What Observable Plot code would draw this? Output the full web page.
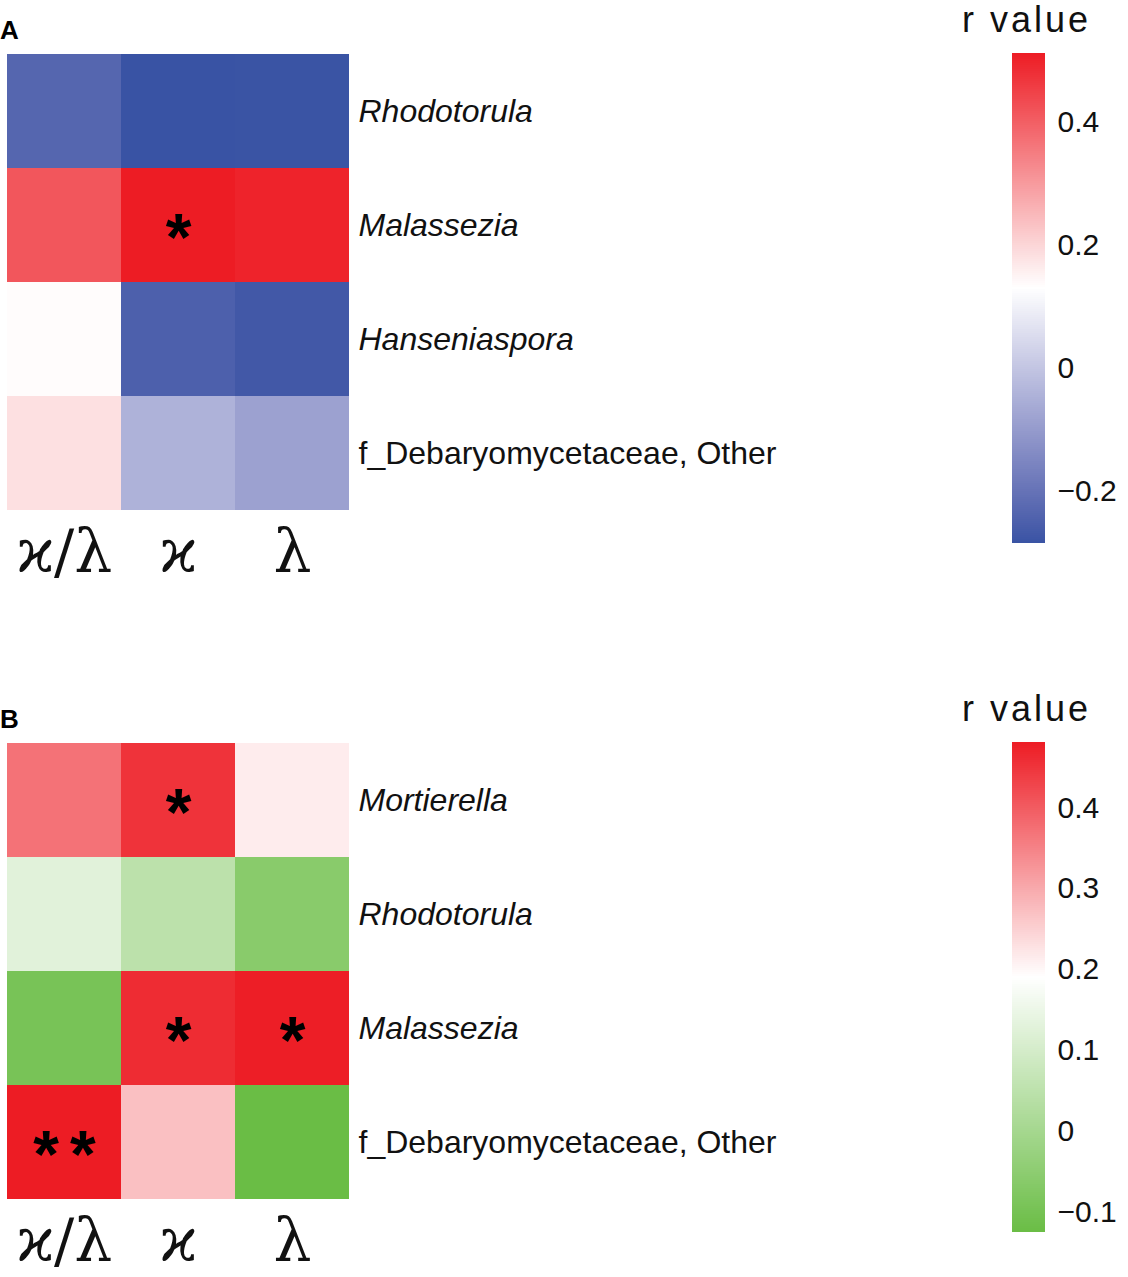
<!DOCTYPE html>
<html>
<head>
<meta charset="utf-8">
<script src="https://cdn.jsdelivr.net/npm/d3@7"></script>
<script src="https://cdn.jsdelivr.net/npm/@observablehq/plot@0.6"></script>
<style>
  html, body { margin: 0; padding: 0; background: #fff; }
  #root { position: relative; width: 1128px; height: 1277px; overflow: hidden; font-family: "Liberation Sans", Arial, sans-serif; }
  .abs { position: absolute; }
  .panel-letter { font-weight: bold; font-size: 26px; line-height: 26px; color: #000; }
  .ltitle { font-size: 36px; line-height: 40px; letter-spacing: 3px; color: #111; white-space: nowrap; }
</style>
</head>
<body>
<div id="root"></div>
<script>
// ---------- data ----------
const cols = ["ϰ/λ", "ϰ", "λ"];

// Panel A
const rowsA = ["Rhodotorula", "Malassezia", "Hanseniaspora", "f_Debaryomycetaceae, Other"];
const rA_kl = [-0.235, 0.415, 0.135, 0.182];
const rA_k  = [-0.285, 0.512, -0.25, -0.045];
const rA_l  = [-0.283, 0.50, -0.27, -0.085];
const sigA_kl = ["", "", "", ""];
const sigA_k  = ["", "*", "", ""];
const sigA_l  = ["", "", "", ""];
const limitsA = [-0.285, 0.512];
const pivotA = 0.13;
const ticksA = [-0.2, 0, 0.2, 0.4];

// Panel B
const rowsB = ["Mortierella", "Rhodotorula", "Malassezia", "f_Debaryomycetaceae, Other"];
const rB_kl = [0.371, 0.127, -0.095, 0.481];
const rB_k  = [0.452, 0.048, 0.461, 0.271];
const rB_l  = [0.214, -0.06, 0.478, -0.125];
const sigB_kl = ["", "", "", "*\u200A\u200A*"];
const sigB_k  = ["*", "", "*", ""];
const sigB_l  = ["", "", "*", ""];
const limitsB = [-0.125, 0.481];
const pivotB = 0.19;
const ticksB = [-0.1, 0, 0.1, 0.2, 0.3, 0.4];

const colorRed = "#ED1C24", colorBlue = "#3953A4", colorGreen = "#6ABD45";
const italicRows = ["Rhodotorula", "Malassezia", "Hanseniaspora", "Mortierella"];

// ---------- helpers ----------
function buildTable(rows, series, sigs) {
  const out = [];
  cols.forEach((c, j) => rows.forEach((r, i) => out.push({col: c, row: r, r: series[j][i], sig: sigs[j][i]})));
  return out;
}
const fmt = d => d === 0 ? "0" : (d < 0 ? "\u2212" : "") + Math.abs(d);

function heatmap(rows, table, colorScale) {
  return Plot.plot({
    width: 800, height: 588,
    marginTop: 53, marginBottom: 77, marginLeft: 7, marginRight: 451,
    style: {fontFamily: "'Liberation Sans', Arial, sans-serif", background: "transparent", color: "#111"},
    x: {domain: cols, padding: 0, label: null},
    y: {domain: rows, padding: 0, label: null},
    color: colorScale,
    marks: [
      Plot.cell(table, {x: "col", y: "row", fill: "r", inset: 0}),
      Plot.text(table.filter(d => d.sig), {x: "col", y: "row", text: "sig", fontSize: 66, fontWeight: "bold", dy: 13, fill: "#000"}),
      Plot.axisY(rows.filter(r => italicRows.includes(r)), {anchor: "right", tickSize: 0, tickPadding: 9, fontSize: 32, fontStyle: "italic", label: null}),
      Plot.axisY(rows.filter(r => !italicRows.includes(r)), {anchor: "right", tickSize: 0, tickPadding: 9, fontSize: 32, label: null}),
      Plot.axisX(cols, {anchor: "bottom", tickSize: 0, tickPadding: 18, fontSize: 60, fontFamily: "'DejaVu Serif', serif", label: null})
    ]
  });
}

function legend(limits, ticks, colorScale) {
  const n = 245;
  const step = (limits[1] - limits[0]) / n;
  const ramp = d3.range(n).map(i => limits[0] + i * step);
  return Plot.plot({
    width: 178, height: 588,
    marginTop: 53, marginBottom: 45, marginLeft: 62, marginRight: 83,
    style: {fontFamily: "'Liberation Sans', Arial, sans-serif", background: "transparent", color: "#111"},
    x: {domain: [0, 1], axis: null},
    y: {domain: limits, label: null},
    color: colorScale,
    marks: [
      Plot.rect(ramp, {x1: 0, x2: 1, y1: d => d, y2: d => Math.min(limits[1], d + step * 1.6), fill: d => d + step / 2}),
      Plot.axisY(ticks, {anchor: "right", tickSize: 0, tickPadding: 12, fontSize: 30, tickFormat: fmt, label: null})
    ]
  });
}

function addPanel(letter, top, rows, series, sigs, limits, pivot, lowColor, lowInterp, ticks) {
  const root = document.getElementById("root");
  const colorScale = {
    type: "linear",
    domain: [limits[0], pivot, limits[1]],
    range: [lowColor, "#ffffff", colorRed],
    interpolate: (a, b) => (d3.color(b).formatHex() === "#ffffff" ? lowInterp : d3.interpolateRgb)(a, b)
  };
  const hm = heatmap(rows, buildTable(rows, series, sigs), colorScale);
  hm.classList.add("abs"); hm.style.left = "0px"; hm.style.top = top + "px";
  root.appendChild(hm);
  const lg = legend(limits, ticks, colorScale);
  lg.classList.add("abs"); lg.style.left = "950px"; lg.style.top = top + "px";
  root.appendChild(lg);
  const lt = document.createElement("div");
  lt.className = "abs panel-letter"; lt.textContent = letter;
  lt.style.left = "0px"; lt.style.top = (top + 17) + "px";
  root.appendChild(lt);
  const tt = document.createElement("div");
  tt.className = "abs ltitle"; tt.textContent = "r value";
  tt.style.left = "962px"; tt.style.top = (top + 0) + "px";
  root.appendChild(tt);
}

addPanel("A", 0, rowsA, [rA_kl, rA_k, rA_l], [sigA_kl, sigA_k, sigA_l], limitsA, pivotA, colorBlue, d3.interpolateLab, ticksA);
addPanel("B", 689, rowsB, [rB_kl, rB_k, rB_l], [sigB_kl, sigB_k, sigB_l], limitsB, pivotB, colorGreen, d3.interpolateRgb, ticksB);
</script>
</body>
</html>
